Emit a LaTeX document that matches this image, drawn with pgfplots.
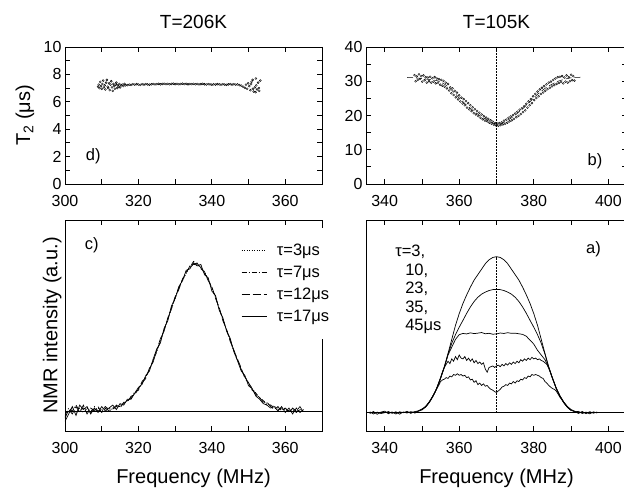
\documentclass[border=0pt]{standalone}
\usepackage{pgfplots}
\pgfplotsset{compat=1.18}
\usepackage{fontspec}
\setmainfont{Liberation Sans}
\begin{document}
\begin{tikzpicture}
\path[use as bounding box] (0pt,0pt) rectangle (624pt,-489pt);
\pgfplotsset{
  every axis/.append style={
    scale only axis,
    font=\fontsize{16}{19}\selectfont,
    tick align=inside,
    major tick length=5pt,
    /pgf/number format/assume math mode=true,
    axis line style={line width=0.8pt},
    every tick/.style={line width=0.8pt, black},
    tick label style={font=\fontsize{16}{19}\selectfont},
    xticklabel style={yshift=-8pt},
    label style={font=\fontsize{20}{24}\selectfont},
    title style={font=\fontsize{19}{22}\selectfont, yshift=9pt},
  },
  spec/.style={line width=0.7pt, black},
  pts/.style={only marks, mark=o, mark size=1.0pt, mark options={line width=0.4pt, black}},
}
% ---------------- top left (d) ----------------
\begin{axis}[at={(65pt,-184pt)}, anchor=south west, width=257pt, height=137pt,
  xmin=300, xmax=370, ymin=0, ymax=10,
  xtick={300,310,...,370}, xticklabels={300,,320,,340,,360,},
  ytick={0,1,...,10}, yticklabels={0,,2,,4,,6,,8,,10},
  title={T=206K}, ylabel={T\textsubscript{2} (μs)}, ylabel shift=2.5pt]
\addplot[pts] coordinates {
(309.0,7.10) (309.2,7.25) (309.4,7.00) (309.6,7.45) (309.8,7.15) (310.0,6.95) (310.2,7.30) (310.4,7.55)
(310.6,7.05) (310.8,7.20) (311.0,6.90) (311.2,7.40) (311.4,7.60) (311.6,7.10) (311.8,7.00) (312.0,7.35)
(312.2,6.85) (312.4,7.25) (312.6,7.50) (312.8,7.05) (313.0,6.80) (313.2,7.30) (313.4,7.15) (313.6,6.95)
(313.8,7.25) (314.0,7.40) (314.2,7.00) (314.4,7.20) (314.6,7.10) (314.8,7.30) (315.0,7.05) (315.3,7.20)
(315.6,7.25) (315.9,7.15) (316.2,7.30) (316.5,7.20)
(317.0,7.22) (317.5,7.26) (318.0,7.24) (318.5,7.28) (319.0,7.25) (319.5,7.29) (320.0,7.26) (320.5,7.24)
(321.0,7.28) (321.5,7.26) (322.0,7.29) (322.5,7.27) (323.0,7.25) (323.5,7.28) (324.0,7.30) (324.5,7.27)
(325.0,7.29) (325.5,7.31) (326.0,7.28) (326.5,7.30) (327.0,7.32) (327.5,7.29) (328.0,7.31) (328.5,7.28)
(329.0,7.30) (329.5,7.32) (330.0,7.29) (330.5,7.31) (331.0,7.28) (331.5,7.30) (332.0,7.32) (332.5,7.29)
(333.0,7.31) (333.5,7.28) (334.0,7.30) (334.5,7.29) (335.0,7.31) (335.5,7.28) (336.0,7.30) (336.5,7.27)
(337.0,7.29) (337.5,7.31) (338.0,7.28) (338.5,7.26) (339.0,7.29) (339.5,7.27) (340.0,7.25) (340.5,7.28)
(341.0,7.26) (341.5,7.29) (342.0,7.27) (342.5,7.25) (343.0,7.28) (343.5,7.26) (344.0,7.24) (344.5,7.27)
(345.0,7.29) (345.5,7.26) (346.0,7.28) (346.5,7.25) (347.0,7.27) (347.5,7.22) (348.0,7.18) (348.5,7.10)
(349.0,7.02) (349.3,7.25) (349.6,6.95) (349.9,7.35) (350.2,7.15) (350.5,6.85) (350.8,7.45) (351.1,7.60)
(351.4,6.75) (351.7,7.05) (352.0,7.70) (352.3,6.90) (352.6,7.40) (352.9,6.80) (353.2,7.55) (351.2,6.95)
(352.1,7.20) (350.7,7.30) (351.9,6.70) (352.8,7.00)
};
\node[font=\fontsize{16.5}{19}\selectfont] at (axis cs:307.7,2.05) {d)};
\end{axis}
% ---------------- top right (b) ----------------
\begin{axis}[at={(366pt,-184pt)}, anchor=south west, width=261pt, height=137pt,
  xmin=335, xmax=405, ymin=0, ymax=40,
  xtick={340,350,...,400}, xticklabels={340,,360,,380,,400},
  ytick={0,5,...,40}, yticklabels={0,,10,,20,,30,,40},
  title={T=105K}]
\addplot[black, line width=0.5pt, dash pattern=on 6pt off 3pt] coordinates {
(346,31.1) (348,31.0) (350,30.8) (352,30.5) (354,30.2) (355,29.8) (356,29.2) (357,28.4) (358,27.4)
(359,26.3) (360,25.1) (361,24.0) (362,23.0) (363,22.1) (364,21.2) (365,20.4) (366,19.6) (367,19.0)
(368,18.3) (369,17.8) (370,17.4) (371,17.5) (372,18.0) (373,18.6) (374,19.3) (375,20.1) (376,21.0)
(377,21.9) (378,23.0) (379,24.0) (380,25.2) (381,26.2) (382,27.1) (383,27.9) (384,28.6) (385,29.2)
(386,29.8) (387,30.2) (388,30.5) (389,30.8) (390,31.0) (391,31.1) (393,31.2)
};
\addplot[pts] coordinates {
(348.0,31.8) (348.3,30.0) (348.6,31.4) (348.9,30.4) (349.2,32.0) (349.5,30.7) (349.8,31.5) (350.1,29.9)
(350.4,31.7) (350.7,30.3) (351.0,31.2) (351.3,29.6) (351.6,31.1) (351.9,30.0) (352.2,31.3) (352.5,29.6)
(352.8,30.9) (353.1,29.9) (353.4,31.2) (353.7,29.4) (354.0,30.8) (354.3,29.6) (354.6,30.6) (354.9,29.0)
(355.2,30.4) (355.5,28.7) (355.8,30.1) (356.1,28.4) (356.4,29.6) (356.7,27.9) (357.0,29.2) (357.3,27.3)
(357.6,28.2) (357.9,26.5) (358.2,27.9) (358.5,26.0) (358.8,27.2) (359.1,25.3) (359.4,26.7) (359.7,24.7)
(360.0,25.9) (360.3,24.1) (360.6,25.2) (360.9,23.5) (361.2,24.8) (361.5,23.0) (361.8,24.2) (362.1,22.3)
(362.4,23.6) (362.7,21.8) (363.0,23.0) (363.3,21.3) (363.6,22.4) (363.9,20.7) (364.2,21.8) (364.5,20.3)
(364.8,21.3) (365.1,19.8) (365.4,20.8) (365.7,19.3) (366.0,20.3) (366.3,18.9) (366.6,19.8) (366.9,18.5)
(367.2,19.4) (367.5,18.3) (367.8,19.0) (368.1,17.9) (368.4,18.6) (368.7,17.6) (369.0,18.2) (369.3,17.3)
(369.6,17.8) (369.9,17.1) (370.2,17.6) (370.5,17.0) (370.8,17.8) (371.1,17.2) (371.4,18.0) (371.7,17.4)
(372.0,18.5) (372.3,17.6) (372.6,18.8) (372.9,17.9) (373.2,19.3) (373.5,18.3) (373.8,19.7) (374.1,18.6)
(374.4,20.1) (374.7,19.0) (375.0,20.6) (375.3,19.5) (375.6,21.1) (375.9,19.9) (376.2,21.7) (376.5,20.4)
(376.8,22.1) (377.1,21.0) (377.4,22.7) (377.7,21.5) (378.0,23.4) (378.3,22.3) (378.6,24.1) (378.9,23.0)
(379.2,24.8) (379.5,23.6) (379.8,25.6) (380.1,24.5) (380.4,26.3) (380.7,25.1) (381.0,27.0) (381.3,25.6)
(381.6,27.6) (381.9,26.3) (382.2,28.1) (382.5,26.7) (382.8,28.6) (383.1,27.2) (383.4,29.1) (383.7,27.7)
(384.0,29.6) (384.3,28.1) (384.6,29.9) (384.9,28.5) (385.2,30.4) (385.5,28.9) (385.8,30.8) (386.1,29.2)
(386.4,31.2) (386.7,29.5) (387.0,31.3) (387.3,29.8) (387.6,31.5) (387.9,29.4) (388.2,31.1) (388.5,29.9)
(388.8,31.7) (389.1,29.6) (389.4,31.2) (389.7,30.0) (390.0,31.9) (390.3,30.3) (390.6,31.5) (390.9,30.2)
};
\addplot[black, line width=0.7pt, dash pattern=on 1.5pt off 1.5pt] coordinates {(370,0) (370,40)};
\node[font=\fontsize{16.5}{19}\selectfont] at (axis cs:396.4,6.6) {b)};
\end{axis}
% ---------------- bottom left (c) ----------------
\begin{axis}[at={(65pt,-431pt)}, anchor=south west, width=257pt, height=211pt,
  xmin=300, xmax=370, ymin=-0.135, ymax=1.29,
  xtick={300,310,...,370}, xticklabels={300,,320,,340,,360,},
  ytick=\empty,
  xlabel={Frequency (MHz)}, ylabel={NMR intensity (a.u.)},
  xlabel style={yshift=-8pt},
  legend style={at={(rel axis cs:0.673,0.962)}, anchor=north west, draw=none, fill=white,
    font=\fontsize{16.5}{19}\selectfont, row sep=5pt, inner ysep=14pt,
    /tikz/every odd column/.append style={column sep=8pt}},
  legend cell align=left,
  legend image code/.code={\draw[#1] (0pt,0pt) -- (25pt,0pt);}]
\addplot[spec, dash pattern=on 1pt off 1.5pt] coordinates {
(300,-0.04) (301,0.00) (302,0.02) (303,-0.01) (304,0.02) (305,-0.01) (306,0.02) (307,0.00) (308,0.01)
(309,0.02) (310,0.00) (311,0.01) (312,0.02) (313,0.01) (314,0.03) (315,0.04) (316,0.05) (317,0.07)
(318,0.09) (319,0.12) (320,0.15) (321,0.19) (322,0.23) (323,0.28) (324,0.34) (325,0.41) (326,0.47)
(327,0.55) (328,0.62) (329,0.69) (330,0.76) (331,0.83) (332,0.88) (333,0.93) (334,0.97) (335,0.99)
(336,0.99) (337,0.97) (338,0.94) (339,0.89) (340,0.83) (341,0.77) (342,0.69) (343,0.62) (344,0.55)
(345,0.48) (346,0.40) (347,0.34) (348,0.28) (349,0.23) (350,0.19) (351,0.15) (352,0.12) (353,0.09)
(354,0.07) (355,0.05) (356,0.04) (357,0.03) (358,0.02) (359,0.01) (360,0.02) (361,0.00) (362,0.01)
(363,0.00) (364,0.01) (365,0.00)
};
\addlegendentry{τ=3μs}
\addplot[spec, dash pattern=on 5pt off 2pt on 1pt off 2pt] coordinates {
(300,-0.03) (301,0.02) (302,0.00) (303,0.04) (304,0.00) (305,0.02) (306,0.01) (307,-0.01) (308,0.03)
(309,0.00) (310,0.01) (311,0.03) (312,0.01) (313,0.02) (314,0.03) (315,0.03) (316,0.05) (317,0.07)
(318,0.09) (319,0.13) (320,0.14) (321,0.20) (322,0.23) (323,0.28) (324,0.34) (325,0.40) (326,0.48)
(327,0.55) (328,0.62) (329,0.70) (330,0.77) (331,0.83) (332,0.89) (333,0.94) (334,0.97) (335,1.01)
(336,0.99) (337,0.97) (338,0.93) (339,0.89) (340,0.83) (341,0.77) (342,0.69) (343,0.62) (344,0.55)
(345,0.48) (346,0.41) (347,0.34) (348,0.28) (349,0.23) (350,0.19) (351,0.15) (352,0.11) (353,0.09)
(354,0.07) (355,0.04) (356,0.04) (357,0.02) (358,0.01) (359,0.02) (360,0.01) (361,0.00) (362,0.01)
(363,-0.01) (364,0.01) (365,0.00)
};
\addlegendentry{τ=7μs}
\addplot[spec, dash pattern=on 8pt off 3pt] coordinates {
(300,-0.05) (301,0.01) (302,-0.02) (303,0.03) (304,-0.01) (305,0.04) (306,-0.02) (307,0.02) (308,0.00)
(309,0.03) (310,-0.01) (311,0.02) (312,0.00) (313,0.01) (314,0.04) (315,0.02) (316,0.06) (317,0.06)
(318,0.10) (319,0.11) (320,0.15) (321,0.19) (322,0.22) (323,0.29) (324,0.33) (325,0.41) (326,0.49)
(327,0.54) (328,0.63) (329,0.69) (330,0.77) (331,0.82) (332,0.89) (333,0.93) (334,0.98) (335,0.99)
(336,1.00) (337,0.96) (338,0.94) (339,0.88) (340,0.84) (341,0.76) (342,0.70) (343,0.61) (344,0.55)
(345,0.47) (346,0.41) (347,0.35) (348,0.29) (349,0.22) (350,0.19) (351,0.14) (352,0.12) (353,0.09)
(354,0.06) (355,0.06) (356,0.03) (357,0.01) (358,0.03) (359,0.00) (360,0.02) (361,-0.01) (362,0.02)
(363,0.00) (364,0.03) (365,-0.01)
};
\addlegendentry{τ=12μs}
\addplot[spec] coordinates {
(300,-0.07) (301,-0.02) (302,0.03) (303,-0.03) (304,0.04) (305,0.01) (306,0.03) (307,-0.02) (308,0.02)
(309,-0.01) (310,0.03) (311,0.00) (312,0.02) (313,0.04) (314,0.01) (315,0.05) (316,0.04) (317,0.08)
(318,0.08) (319,0.12) (320,0.16) (321,0.18) (322,0.24) (323,0.27) (324,0.35) (325,0.42) (326,0.46)
(327,0.56) (328,0.61) (329,0.71) (330,0.76) (331,0.84) (332,0.88) (333,0.95) (334,0.96) (335,1.00)
(336,0.98) (337,0.99) (338,0.92) (339,0.90) (340,0.81) (341,0.78) (342,0.68) (343,0.63) (344,0.54)
(345,0.49) (346,0.40) (347,0.34) (348,0.27) (349,0.24) (350,0.17) (351,0.15) (352,0.10) (353,0.08)
(354,0.05) (355,0.04) (356,0.02) (357,0.03) (358,0.00) (359,0.03) (360,-0.01) (361,0.02) (362,-0.02)
(363,0.02) (364,-0.01) (365,0.01)
};
\addlegendentry{τ=17μs}
\addplot[black, line width=0.8pt, forget plot] coordinates {(300,0) (370,0)};
\node[font=\fontsize{16.5}{19}\selectfont] at (axis cs:307.3,1.12) {c)};
\end{axis}
% ---------------- bottom right (a) ----------------
\begin{axis}[at={(366pt,-431pt)}, anchor=south west, width=261pt, height=211pt,
  xmin=335, xmax=405, ymin=-0.117, ymax=1.235,
  xtick={340,350,...,400}, xticklabels={340,,360,,380,,400},
  ytick=\empty,
  xlabel={Frequency (MHz)}, xlabel style={yshift=-8pt}]
\addplot[black, line width=0.8pt] coordinates {(335,0) (405,0)};
\addplot[black, line width=0.7pt, dash pattern=on 1.5pt off 1.5pt] coordinates {(370,0) (370,1)};
\addplot[spec] coordinates {
(336,-0.005) (337,0.008) (338,-0.01) (339,0.004) (340,0.01) (341,-0.006) (342,0.005) (343,-0.008)
(344,0.006) (345,0.0) (346,0.009) (347,-0.004) (348,0.007) (349,0.012) (350,0.024) (351,0.038)
(352,0.072) (353,0.108) (354,0.158) (355,0.226) (356,0.295) (357,0.38) (358,0.47) (359,0.56)
(360,0.635) (361,0.70) (362,0.755) (363,0.805) (364,0.85) (365,0.885) (366,0.92) (367,0.955)
(368,0.98) (369,0.995) (370,1.0) (371,0.995) (372,0.98) (373,0.955) (374,0.92) (375,0.885)
(376,0.85) (377,0.805) (378,0.755) (379,0.70) (380,0.635) (381,0.56) (382,0.47) (383,0.38)
(384,0.295) (385,0.225) (386,0.16) (387,0.11) (388,0.07) (389,0.04) (390,0.02) (391,0.01)
(392,-0.004) (393,0.008) (394,-0.006) (395,0.007) (396,-0.003) (397,0.005)
};
\addplot[spec] coordinates {
(336,0.006) (337,-0.008) (338,0.004) (339,-0.005) (340,0.0) (341,0.008) (342,-0.004) (343,0.006)
(344,-0.009) (345,0.005) (346,-0.002) (347,0.007) (348,0.002) (349,0.01) (350,0.018) (351,0.042)
(352,0.066) (353,0.112) (354,0.155) (355,0.22) (356,0.29) (357,0.375) (358,0.445) (359,0.50)
(360,0.548) (361,0.592) (362,0.637) (363,0.678) (364,0.713) (365,0.74) (366,0.76) (367,0.773)
(368,0.783) (369,0.789) (370,0.79) (371,0.789) (372,0.783) (373,0.773) (374,0.76) (375,0.74)
(376,0.713) (377,0.678) (378,0.637) (379,0.592) (380,0.548) (381,0.50) (382,0.445) (383,0.375)
(384,0.29) (385,0.222) (386,0.158) (387,0.106) (388,0.068) (389,0.036) (390,0.018) (391,0.006)
(392,0.009) (393,-0.005) (394,0.004) (395,-0.007) (396,0.006) (397,-0.002)
};
\addplot[spec] coordinates {
(348,-0.004) (349,0.01) (350,0.022) (351,0.036) (352,0.07) (353,0.106) (354,0.16) (355,0.222)
(356,0.29) (357,0.37) (358,0.42) (359,0.47) (360,0.50) (361,0.508) (362,0.505) (363,0.512)
(364,0.507) (365,0.51) (366,0.514) (367,0.506) (368,0.509) (369,0.503) (370,0.505) (371,0.511)
(372,0.508) (373,0.513) (374,0.509) (375,0.51) (376,0.506) (377,0.502) (378,0.49) (379,0.465)
(380,0.44) (381,0.40) (382,0.37) (383,0.34) (384,0.29) (385,0.22) (386,0.157) (387,0.108)
(388,0.068) (389,0.04) (390,0.017) (391,0.006) (392,-0.003)
};
\addplot[spec] coordinates {
(350,0.02) (350.5,0.03) (351,0.04) (351.5,0.05) (352,0.07) (352.5,0.085) (353,0.11) (353.5,0.13)
(354,0.16) (354.5,0.19) (355,0.22) (355.5,0.26) (356,0.29) (356.5,0.31) (357,0.33) (357.5,0.315)
(358,0.345) (358.5,0.33) (359,0.36) (359.5,0.34) (360,0.37) (360.5,0.35) (361,0.345) (361.5,0.36)
(362,0.335) (362.5,0.35) (363,0.33) (363.5,0.345) (364,0.32) (364.5,0.335) (365,0.315) (365.5,0.325)
(366,0.31) (366.5,0.32) (367,0.28) (367.5,0.26) (368,0.29) (368.5,0.295) (369,0.30) (369.5,0.29)
(370,0.30) (370.5,0.305) (371,0.295) (371.5,0.31) (372,0.30) (372.5,0.315) (373,0.305) (373.5,0.32)
(374,0.31) (374.5,0.325) (375,0.315) (375.5,0.33) (376,0.32) (376.5,0.34) (377,0.33) (377.5,0.345)
(378,0.335) (378.5,0.35) (379,0.34) (379.5,0.355) (380,0.345) (380.5,0.35) (381,0.34) (381.5,0.345)
(382,0.335) (382.5,0.33) (383,0.32) (383.5,0.31) (384,0.285) (384.5,0.255) (385,0.22) (385.5,0.19)
(386,0.155) (386.5,0.13) (387,0.105) (387.5,0.085) (388,0.068) (388.5,0.05) (389,0.038) (389.5,0.025)
(390,0.016)
};
\addplot[spec] coordinates {
(350,0.018) (350.5,0.028) (351,0.04) (351.5,0.055) (352,0.068) (352.5,0.09) (353,0.11) (353.5,0.13)
(354,0.155) (354.5,0.175) (355,0.2) (355.5,0.21) (356,0.215) (356.5,0.225) (357,0.22) (357.5,0.235)
(358,0.23) (358.5,0.245) (359,0.24) (359.5,0.25) (360,0.24) (360.5,0.245) (361,0.235) (361.5,0.24)
(362,0.225) (362.5,0.23) (363,0.21) (363.5,0.215) (364,0.195) (364.5,0.205) (365,0.18) (365.5,0.19)
(366,0.175) (366.5,0.185) (367,0.17) (367.5,0.175) (368,0.16) (368.5,0.15) (369,0.145) (369.5,0.135)
(370,0.13) (370.5,0.14) (371,0.15) (371.5,0.165) (372,0.17) (372.5,0.18) (373,0.175) (373.5,0.19)
(374,0.185) (374.5,0.2) (375,0.19) (375.5,0.205) (376,0.2) (376.5,0.215) (377,0.21) (377.5,0.225)
(378,0.22) (378.5,0.235) (379,0.23) (379.5,0.245) (380,0.24) (380.5,0.245) (381,0.24) (381.5,0.235)
(382,0.225) (382.5,0.22) (383,0.2) (383.5,0.19) (384,0.175) (384.5,0.165) (385,0.155) (385.5,0.15)
(386,0.14) (386.5,0.12) (387,0.1) (387.5,0.085) (388,0.065) (388.5,0.05) (389,0.035) (389.5,0.025)
(390,0.015)
};
\node[font=\fontsize{16.5}{19}\selectfont] at (axis cs:396.0,1.05) {a)};
\node[anchor=north west, align=left, inner sep=0pt, font=\fontsize{16.5}{18.5}\selectfont]
  at (axis cs:342.8,1.075) {τ=3,\\\hspace*{10pt}10,\\\hspace*{10pt}23,\\\hspace*{10pt}35,\\\hspace*{10pt}45μs};
\end{axis}
\end{tikzpicture}
\end{document}
